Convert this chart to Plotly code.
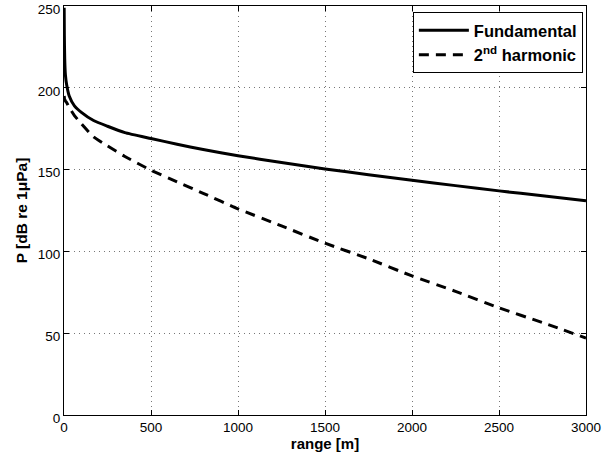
import plotly.graph_objects as go

range_m = [1, 2, 4, 8, 15, 30, 60, 100, 170, 250, 350, 500, 650, 800, 1000,
           1250, 1500, 1750, 2000, 2250, 2500, 2750, 3000]
fundamental = [249, 232, 218, 208, 202, 195, 189, 185, 180, 176.5, 172.6, 169,
               165.5, 162.3, 158.5, 154.3, 150.4, 146.9, 143.5, 140.2, 137, 134, 131]
harmonic2 = [195, 194, 193, 192, 191, 188, 183, 178, 170, 164.5, 158, 149.6,
             142.5, 135.5, 126, 115.6, 105, 95.5, 85, 75.6, 65.5, 56.5, 47]

x_ticks = [0, 500, 1000, 1500, 2000, 2500, 3000]
y_ticks = [0, 50, 100, 150, 200, 250]

fig = go.Figure()
fig.add_trace(go.Scatter(x=range_m, y=fundamental, mode="lines",
                         name="<b>Fundamental</b>",
                         line=dict(color="black", width=3, shape="spline", smoothing=0.5)))
fig.add_trace(go.Scatter(x=range_m, y=harmonic2, mode="lines",
                         name="<b>2<sup>nd</sup> harmonic</b>",
                         line=dict(color="black", width=3, dash="10px,7px",
                                   shape="spline", smoothing=0.5)))

axis_common = dict(showline=True, linecolor="black", linewidth=1, mirror="ticks",
                   ticks="inside", ticklen=5, tickcolor="black",
                   showgrid=True, gridcolor="#777777", griddash="1px,4px", gridwidth=1,
                   zeroline=False, tickfont=dict(size=13.5, color="black"),
                   ticklabeloverflow="allow", automargin=False)

fig.update_xaxes(range=[0, 3000], tickvals=x_ticks,
                 title=dict(text="<b>range [m]</b>", font=dict(size=15, color="black"), standoff=3),
                 **axis_common)
fig.update_yaxes(range=[0, 250], tickvals=y_ticks, ticklabelshift=3,
                 title=dict(text="<b>P [dB re 1μPa]</b>", font=dict(size=15.5, color="black"), standoff=6),
                 **axis_common)

fig.update_layout(
    width=602, height=463,
    margin=dict(l=64, r=16, t=6, b=48),
    paper_bgcolor="white", plot_bgcolor="white",
    font=dict(family="Liberation Sans, Arial, sans-serif", color="black"),
    legend=dict(x=0.994, y=0.985, xanchor="right", yanchor="top",
                bordercolor="black", borderwidth=1, bgcolor="white",
                font=dict(size=16.5, color="black"), itemwidth=50,
                tracegroupgap=0),
    showlegend=True,
)

fig.write_html("out.html", config={"displayModeBar": False},
               post_script="document.body.style.margin='0px';")
